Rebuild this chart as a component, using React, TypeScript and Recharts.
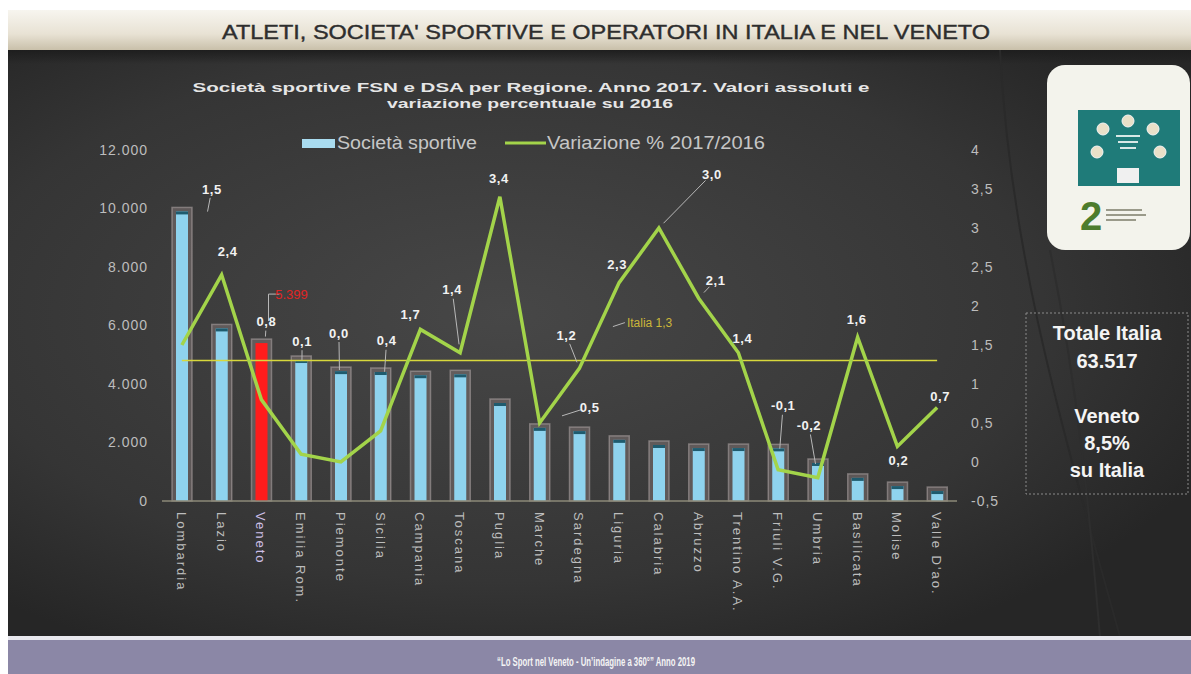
import React from "react";
import { Bar, ComposedChart, LabelList, Legend, Line, ReferenceLine, XAxis, YAxis } from "recharts";

const regions = [
  "Lombardia", "Lazio", "Veneto", "Emilia Rom.", "Piemonte", "Sicilia", "Campania", "Toscana", "Puglia", "Marche",
  "Sardegna", "Liguria", "Calabria", "Abruzzo", "Trentino A.A.", "Friuli V.G.", "Umbria", "Basilicata", "Molise", "Valle D'ao.",
];
const societa = [
  9900, 5900, 5399, 4820, 4440, 4410, 4300, 4330, 3350, 2500,
  2390, 2090, 1915, 1810, 1810, 1800, 1300, 790, 510, 340,
];
const variazione = [
  1.5, 2.4, 0.8, 0.1, 0.0, 0.4, 1.7, 1.4, 3.4, 0.5,
  1.2, 2.3, 3.0, 2.1, 1.4, -0.1, -0.2, 1.6, 0.2, 0.7,
];
const italiaVariazione = 1.3;
const leftTicks = [0, 2000, 4000, 6000, 8000, 10000, 12000];
const rightTicks = [-0.5, 0, 0.5, 1, 1.5, 2, 2.5, 3, 3.5, 4];

const data = regions.map((region, i) => ({ region, societa: societa[i], variazione: variazione[i] }));

// label placement for the line values: [dx, dy, leader length]
const labelOffsets: [number, number, number][] = [
  [30, -156, 14], [6, -23, 0], [5, -78, 6], [1, -113, 10], [-2, -129, 28],
  [6, -90, 22], [-10, -15, 0], [-8, -63, 46], [-1, -18, 0], [50, -16, 20],
  [-13, -33, 20], [-2, -18, 0], [53, -54, 60], [17, -18, 8], [4, -14, 0],
  [5, -64, 34], [-9, -52, 30], [-1, -18, 0], [1, 14, 0], [3, -11, 0],
];

const GREEN = "#a3d44a";
const AXIS_TEXT = "#bdbdbd";
const FONT = "'Liberation Sans', Arial, sans-serif";

const fmtThousands = (v: number) => String(v).replace(/\B(?=(\d{3})+(?!\d))/g, ".");
const fmtComma = (v: number) => String(v).replace(".", ",");
const fmtOneDecimal = (v: number) => v.toFixed(1).replace(".", ",");

function BarShape(props: any) {
  const { x, y, width, height, payload } = props;
  const isVeneto = payload?.region === "Veneto";
  return (
    <g>
      <rect x={x - 4} y={y - 4} width={width + 8} height={height + 4} fill="rgba(125,115,115,0.55)" stroke="rgba(175,165,165,0.55)" strokeWidth={1.5} />
      <rect x={x} y={y} width={width} height={height} fill={isVeneto ? "#ff1c1c" : "#8fd3ee"} />
      {!isVeneto && <rect x={x} y={y} width={width} height={3} fill="#1f5b6e" />}
    </g>
  );
}

function XTick({ x, y, payload }: any) {
  const isVeneto = payload.value === "Veneto";
  return (
    <text
      transform={`translate(${x - 5},${y + 3}) rotate(90)`}
      fill={isVeneto ? "#cdbfe6" : AXIS_TEXT}
      fontSize={13}
      letterSpacing={2}
      fontFamily={FONT}
      textAnchor="start"
    >
      {payload.value}
    </text>
  );
}

function LineLabel(props: any) {
  const { x, y, value, index } = props;
  const [dx, dy, lead] = labelOffsets[index] ?? [0, -16, 0];
  const lx = x + dx;
  const ly = y + dy;
  const len = Math.hypot(dx, dy) || 1;
  const ux = -dx / len;
  const uy = -dy / len;
  return (
    <g>
      {lead > 0 && (
        <line x1={lx + ux * 9} y1={ly + uy * 9} x2={lx + ux * (9 + lead)} y2={ly + uy * (9 + lead)} stroke="#b8b8b8" strokeWidth={1} />
      )}
      <text x={lx} y={ly} dy="0.35em" textAnchor="middle" fill="#f2f2f2" fontSize={13} fontWeight="bold" letterSpacing={0.5} fontFamily={FONT}>
        {fmtOneDecimal(value)}
      </text>
    </g>
  );
}

function VenetoLabel(props: any) {
  const { x, y, width, value, index } = props;
  if (regions[index] !== "Veneto") return null;
  const cx = x + width / 2;
  return (
    <g>
      <polyline points={`${cx + 18},${y - 49} ${cx + 7},${y - 49} ${cx + 7},${y - 22}`} fill="none" stroke="#b8b8b8" strokeWidth={1} />
      <text x={cx + 30} y={y - 49} dy="0.35em" textAnchor="middle" fill="#e02424" fontSize={13} fontFamily={FONT}>
        {fmtThousands(value)}
      </text>
    </g>
  );
}

function ItaliaLabel(props: any) {
  const { viewBox } = props;
  const x = viewBox.x + 445;
  const y = viewBox.y - 38;
  return (
    <g>
      <line x1={x - 14} y1={y + 4} x2={x - 2} y2={y} stroke="#b8b8b8" strokeWidth={1} />
      <text x={x} y={y} dy="0.35em" fill="#cbb63a" fontSize={12} fontFamily={FONT}>
        Italia {fmtComma(italiaVariazione)}
      </text>
    </g>
  );
}

function LegendContent() {
  return (
    <svg width={480} height={24}>
      <rect x={2} y={7} width={33} height={9} fill="#a9dcf0" />
      <text x={37} y={17} fill="#c6c6c6" fontSize={18} fontFamily={FONT} textLength={140} lengthAdjust="spacingAndGlyphs">
        Società sportive
      </text>
      <line x1={205} y1={11} x2={246} y2={11} stroke={GREEN} strokeWidth={3} />
      <text x={247} y={17} fill="#c6c6c6" fontSize={18} fontFamily={FONT} textLength={218} lengthAdjust="spacingAndGlyphs">
        Variazione % 2017/2016
      </text>
    </svg>
  );
}

function Backdrop() {
  return (
    <svg width={1191} height={674} style={{ position: "absolute", left: 0, top: 0 }}>
      <defs>
        <linearGradient id="band" x1="0" y1="0" x2="0" y2="1">
          <stop offset="0" stopColor="#f7f5ef" />
          <stop offset="0.6" stopColor="#e8e2d4" />
          <stop offset="1" stopColor="#c9c0aa" />
        </linearGradient>
        <radialGradient id="panel" cx="0.42" cy="0.45" r="0.65">
          <stop offset="0" stopColor="#474747" />
          <stop offset="0.7" stopColor="#353535" />
          <stop offset="1" stopColor="#262626" />
        </radialGradient>
        <linearGradient id="topShade" x1="0" y1="0" x2="0" y2="1">
          <stop offset="0" stopColor="#1e1e1e" />
          <stop offset="1" stopColor="#1e1e1e" stopOpacity={0} />
        </linearGradient>
      </defs>
      <rect x={0} y={0} width={1191} height={674} fill="#ffffff" />
      <rect x={8} y={10} width={1183} height={40} fill="url(#band)" />
      <text x={222} y={39} fill="#2e2e2e" stroke="#2e2e2e" strokeWidth={0.4} fontSize={21} fontFamily="'Liberation Sans Narrow', 'Liberation Sans', Arial, sans-serif" textLength={768} lengthAdjust="spacingAndGlyphs">
        ATLETI, SOCIETA' SPORTIVE E OPERATORI IN ITALIA E NEL VENETO
      </text>
      <rect x={8} y={50} width={1183} height={587} fill="url(#panel)" />
      <rect x={8} y={50} width={1183} height={14} fill="url(#topShade)" />
      <path d="M1000,50 C1010,250 1060,420 1120,637" fill="none" stroke="#2a2a2a" strokeWidth={2} />
      <path d="M1050,250 C1080,400 1090,520 1100,637" fill="none" stroke="#2e2e2e" strokeWidth={2} />

      <text x={531} y={92} textAnchor="middle" fill="#e6e6e6" fontSize={12} fontWeight="bold" fontFamily={FONT} textLength={677} lengthAdjust="spacingAndGlyphs">
        Società sportive  FSN e DSA  per Regione. Anno 2017. Valori assoluti  e
      </text>
      <text x={530} y={108} textAnchor="middle" fill="#e6e6e6" fontSize={12} fontWeight="bold" fontFamily={FONT} textLength={286} lengthAdjust="spacingAndGlyphs">
        variazione percentuale su 2016
      </text>

      <g>
        <rect x={1047} y={65} width={143} height={185} rx={18} fill="#f3f3ec" />
        <rect x={1078} y={110} width={102} height={76} fill="#1f7b79" />
        {[[1128, 121], [1103, 129], [1153, 129], [1097, 152], [1160, 152]].map(([cx, cy], i) => (
          <circle key={i} cx={cx} cy={cy} r={6} fill="#e9e0c8" stroke="#f5f5f5" strokeWidth={1} />
        ))}
        <rect x={1116} y={135} width={24} height={2} fill="#d8e8e6" />
        <rect x={1118} y={141} width={20} height={2} fill="#d8e8e6" />
        <rect x={1120} y={147} width={16} height={2} fill="#d8e8e6" />
        <rect x={1117} y={168} width={22} height={15} fill="#f0f0f0" />
        <text x={1080} y={230} fill="#4d7c2d" fontSize={40} fontWeight="bold" fontFamily={FONT}>2</text>
        <rect x={1106} y={209} width={36} height={2} fill="#9a9a8a" />
        <rect x={1106} y={214} width={40} height={2} fill="#9a9a8a" />
        <rect x={1106} y={219} width={30} height={2} fill="#9a9a8a" />
      </g>

      <rect x={1026} y={313} width={162} height={181} fill="none" stroke="#8a8a8a" strokeDasharray="2 2" strokeWidth={1} />
      {[["Totale Italia", 340], ["63.517", 368], ["Veneto", 423], ["8,5%", 450], ["su Italia", 477]].map(([t, yy]) => (
        <text key={t as string} x={1107} y={yy as number} textAnchor="middle" fill="#f4f4f4" fontSize={20} fontWeight="bold" fontFamily={FONT}>
          {t}
        </text>
      ))}

      <rect x={8} y={636} width={1183} height={4} fill="#e8e8ee" />
      <rect x={8} y={640} width={1183} height={34} fill="#8b87a6" />
      <text x={596} y={666} textAnchor="middle" fill="#f4f4f4" fontSize={12} fontWeight="bold" fontFamily="'Liberation Sans Narrow', 'Liberation Sans', Arial, sans-serif" textLength={198} lengthAdjust="spacingAndGlyphs">
        “Lo Sport nel Veneto - Un’indagine a 360°” Anno 2019
      </text>
    </svg>
  );
}

export default function App() {
  return (
    <div style={{ position: "absolute", left: 0, top: 0, width: 1191, height: 674, overflow: "hidden", fontFamily: FONT }}>
      <Backdrop />
      <div style={{ position: "absolute", left: 0, top: 0 }}>
        <ComposedChart width={1191} height={674} data={data} margin={{ top: 150, right: 194, bottom: 63, left: 102 }} barCategoryGap={0}>
          <XAxis
            dataKey="region"
            interval={0}
            tickLine={false}
            axisLine={{ stroke: "#8c8a78", strokeWidth: 1.5 }}
            height={110}
            tick={<XTick />}
          />
          <YAxis
            yAxisId="left"
            domain={[0, 12000]}
            ticks={leftTicks}
            tickFormatter={fmtThousands}
            axisLine={false}
            tickLine={false}
            width={60}
            tickSize={6}
            tickMargin={8}
            tick={{ fill: AXIS_TEXT, fontSize: 14, fontFamily: FONT, letterSpacing: 1 }}
          />
          <YAxis
            yAxisId="right"
            orientation="right"
            domain={[-0.5, 4]}
            ticks={rightTicks}
            tickFormatter={fmtComma}
            axisLine={false}
            tickLine={false}
            width={40}
            tickSize={6}
            tickMargin={8}
            tick={{ fill: AXIS_TEXT, fontSize: 14, fontFamily: FONT, letterSpacing: 1 }}
          />
          <Legend
            verticalAlign="middle"
            align="center"
            layout="horizontal"
            content={<LegendContent />}
            wrapperStyle={{ position: "absolute", left: 300, top: 132, width: 480 }}
          />
          <Bar yAxisId="left" dataKey="societa" barSize={12} shape={<BarShape />} isAnimationActive={false}>
            <LabelList dataKey="societa" content={<VenetoLabel />} />
          </Bar>
          <ReferenceLine
            yAxisId="right"
            segment={[{ x: regions[0], y: italiaVariazione }, { x: regions[regions.length - 1], y: italiaVariazione }]}
            stroke="#d8d83c"
            strokeWidth={1.5}
            label={<ItaliaLabel />}
          />
          <Line
            yAxisId="right"
            dataKey="variazione"
            stroke={GREEN}
            strokeWidth={3.5}
            dot={false}
            activeDot={false}
            isAnimationActive={false}
          >
            <LabelList dataKey="variazione" content={<LineLabel />} />
          </Line>
        </ComposedChart>
      </div>
    </div>
  );
}
